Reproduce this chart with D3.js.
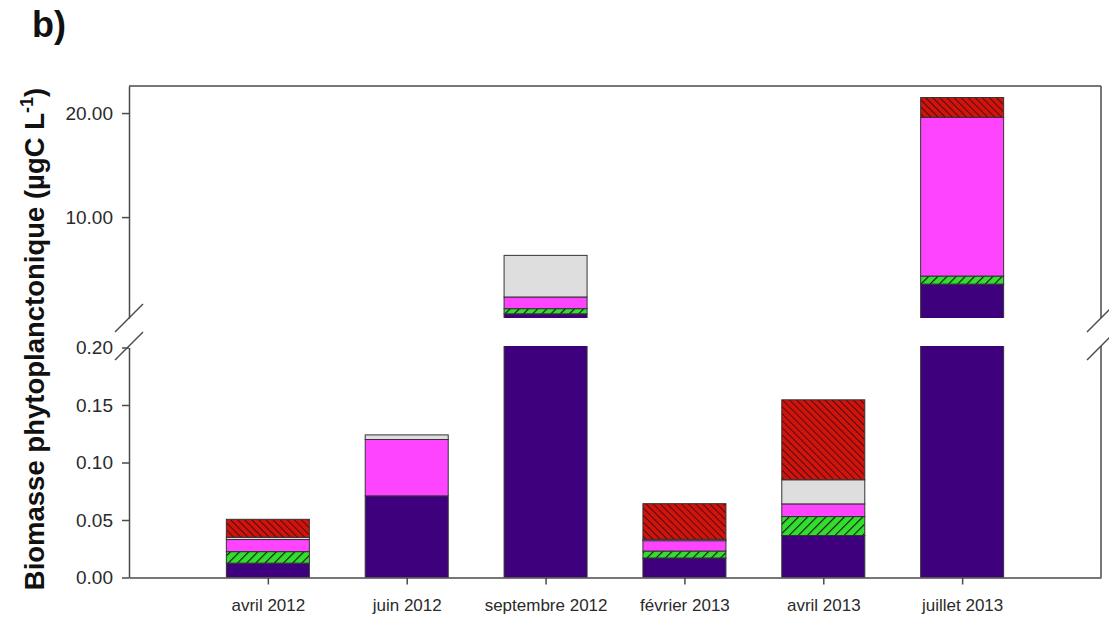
<!DOCTYPE html>
<html>
<head>
<meta charset="utf-8">
<script src="https://cdn.jsdelivr.net/npm/d3@7"></script>
<style>
  body { margin: 0; background: #fff; }
  svg { display: block; font-family: Arial, "Liberation Sans", Helvetica, sans-serif; }
</style>
</head>
<body>
<svg id="chart" width="1109" height="619"></svg>
<script>
// ---- data ----
const categories = ["avril 2012", "juin 2012", "septembre 2012", "février 2013", "avril 2013", "juillet 2013"];
const seriesNames = ["groupe 1", "groupe 2", "groupe 3", "groupe 4", "groupe 5"];
const purpleVals  = [0.0125, 0.071, 0.70, 0.017, 0.0365, 3.56];
const greenVals   = [0.0100, 0.000, 0.50, 0.006, 0.0165, 0.77];
const magentaVals = [0.0105, 0.049, 1.12, 0.009, 0.0110, 15.26];
const greyVals    = [0.0020, 0.004, 4.00, 0.0012, 0.0210, 0.00];
const redVals     = [0.0156, 0.000, 0.00, 0.031, 0.0695, 1.90];
const lowerTicks = [0, 0.05, 0.10, 0.15, 0.20];
const upperTicks = [10, 20];

(function () {
// ---- layout ----
const svg = d3.select("#chart");
const pLeft = 129, pRight = 1101, pTop = 86, pBottom = 577.5;
const lowerTop = 346, upperBottom = 318;
const axisColor = "#4a4a4a";

const x = d3.scalePoint().domain(categories).range([pLeft, pRight]).padding(1);
const yLow = d3.scaleLinear().domain([0, 0.2]).range([pBottom, 347.5]);
const yUp = d3.scaleLinear().domain([0.3, 22.6]).range([upperBottom, pTop]);
const barW = 83;

// patterns
const defs = svg.append("defs");
function hatch(id, bg, angle, spacing, lw) {
  const p = defs.append("pattern").attr("id", id).attr("patternUnits", "userSpaceOnUse")
    .attr("width", spacing).attr("height", spacing)
    .attr("patternTransform", `rotate(${angle})`);
  p.append("rect").attr("width", spacing).attr("height", spacing).attr("fill", bg);
  p.append("line").attr("x1", 0).attr("y1", 0).attr("x2", 0).attr("y2", spacing)
    .attr("stroke", "#111").attr("stroke-width", lw);
}
hatch("hGreen", "#33dd2e", 45, 6.5, 2.2);
hatch("hRed", "#d4120c", -45, 5, 1.5);

const fills = ["#3f007d", "url(#hGreen)", "#ff44ff", "#dedede", "url(#hRed)"];
const values = [purpleVals, greenVals, magentaVals, greyVals, redVals];

defs.append("clipPath").attr("id", "clipLow").append("rect")
  .attr("x", pLeft).attr("y", lowerTop).attr("width", pRight - pLeft).attr("height", pBottom - lowerTop);
defs.append("clipPath").attr("id", "clipUp").append("rect")
  .attr("x", pLeft).attr("y", pTop).attr("width", pRight - pLeft).attr("height", upperBottom - pTop);

const table = categories.map((c, i) => {
  const o = { cat: c };
  seriesNames.forEach((s, k) => o[s] = values[k][i]);
  return o;
});
const stacked = d3.stack().keys(seriesNames)(table);

function drawPanel(yScale, clipId) {
  const g = svg.append("g").attr("clip-path", `url(#${clipId})`);
  stacked.forEach((layer, k) => {
    g.selectAll(null).data(layer.filter(d => d[1] - d[0] > 0)).enter().append("rect")
      .attr("x", d => x(d.data.cat) - barW / 2)
      .attr("width", barW)
      .attr("y", d => yScale(d[1]))
      .attr("height", d => Math.max(0, yScale(d[0]) - yScale(d[1])))
      .attr("fill", fills[k])
      .attr("stroke", "#333")
      .attr("stroke-width", 1);
  });
}
drawPanel(yLow, "clipLow");
drawPanel(yUp, "clipUp");

// axes
const fmt = d3.format(".2f");
const axLow = svg.append("g").attr("transform", `translate(${pLeft},0)`)
  .call(d3.axisLeft(yLow).tickValues(lowerTicks).tickFormat(fmt).tickSize(7).tickSizeOuter(0).tickPadding(9));
const axUp = svg.append("g").attr("transform", `translate(${pLeft},0)`)
  .call(d3.axisLeft(yUp).tickValues(upperTicks).tickFormat(fmt).tickSize(7).tickSizeOuter(0).tickPadding(9));
const axX = svg.append("g").attr("transform", `translate(0,${pBottom})`)
  .call(d3.axisBottom(x).tickSize(7).tickSizeOuter(0).tickPadding(14));

[axLow, axUp, axX].forEach(a => {
  a.selectAll("path, line").attr("stroke", axisColor).attr("stroke-width", 1.5);
  a.selectAll("text").attr("fill", "#2a2a2a");
});
axLow.selectAll("text").style("font-size", "19px");
axUp.selectAll("text").style("font-size", "19px");
axX.selectAll("text").style("font-size", "17px");

// frame top & right
svg.append("line").attr("x1", pLeft).attr("x2", pRight).attr("y1", pTop).attr("y2", pTop)
  .attr("stroke", axisColor).attr("stroke-width", 1.5);
svg.append("line").attr("x1", pRight).attr("x2", pRight).attr("y1", pTop).attr("y2", upperBottom)
  .attr("stroke", axisColor).attr("stroke-width", 1.5);
svg.append("line").attr("x1", pRight).attr("x2", pRight).attr("y1", lowerTop).attr("y2", pBottom)
  .attr("stroke", axisColor).attr("stroke-width", 1.5);

// break marks
[pLeft, pRight].forEach(bx => {
  [upperBottom, lowerTop].forEach(by => {
    svg.append("line").attr("x1", bx - 14).attr("y1", by + 14).attr("x2", bx + 14).attr("y2", by - 14)
      .attr("stroke", axisColor).attr("stroke-width", 1.5);
  });
});

// y title
const yt = svg.append("text")
  .attr("transform", "translate(44,339) rotate(-90)")
  .attr("text-anchor", "middle")
  .attr("font-weight", "bold")
  .attr("font-size", 27.5)
  .attr("fill", "#111");
yt.append("tspan").text("Biomasse phytoplanctonique (µgC L");
yt.append("tspan").attr("dy", -11).attr("font-size", 18).text("-1");
yt.append("tspan").attr("dy", 11).text(")");

// panel label
svg.append("text").attr("x", 32).attr("y", 37).attr("font-weight", "bold")
  .attr("font-size", 36).attr("fill", "#111").text("b)");
})();
</script>
</body>
</html>
